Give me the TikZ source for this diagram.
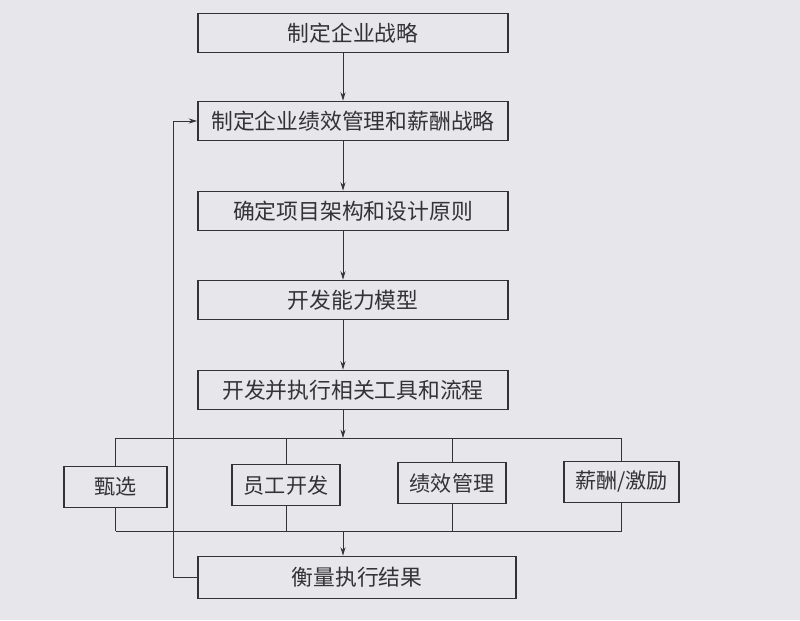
\documentclass[tikz,border=0pt]{standalone}
\usepackage{fontspec}
\newfontfamily\cjk{Noto Sans CJK SC}
\usetikzlibrary{arrows.meta}
\definecolor{paper}{HTML}{E6E6EB}
\definecolor{ink}{HTML}{333335}

\begin{document}
\begin{tikzpicture}[x=0.025cm,y=-0.025cm,
            box/.style={draw=ink,line width=1.2pt,fill=paper,text=ink,inner sep=0pt,
                        minimum width=7.75cm,minimum height=0.975cm,font=\cjk\fontsize{15.5pt}{17pt}\selectfont},
            subbox/.style={box,minimum height=1.025cm,font=\cjk\fontsize{15pt}{17pt}\selectfont},
            wire/.style={draw=ink,line width=0.6pt},
            arr/.style={wire,-{Stealth[length=6pt,width=3.6pt]}}]
            \fill[paper] (0,0) rectangle (800,620);
            \node[box] (b1) at (353,33) {制定企业战略};
            \node[box] (b2) at (353,121) {制定企业绩效管理和薪酬战略};
            \node[box] (b3) at (353,211) {确定项目架构和设计原则};
            \node[box] (b4) at (353,300) {开发能力模型};
            \node[box] (b5) at (353,390) {开发并执行相关工具和流程};
            \node[subbox,minimum width=2.575cm] (s1) at (115.5,487) {甄选};
            \node[subbox,minimum width=2.7cm] (s2) at (286,485) {员工开发};
            \node[subbox,minimum width=2.7cm] (s3) at (452,483) {绩效管理};
            \node[subbox,minimum width=2.875cm] (s4) at (621.5,482) {薪酬/激励};
            \node[box,minimum width=7.95cm,minimum height=1.05cm] (b6) at (357,577.5) {衡量执行结果};
            \coordinate (spine) at (343,0);
            \coordinate (loop) at (173,0);
            \coordinate (bustop) at (0,438);
            \coordinate (busbot) at (0,531);
            \draw[arr] (b1.south -| spine) -- (b2.north -| spine);
            \draw[arr] (b2.south -| spine) -- (b3.north -| spine);
            \draw[arr] (b3.south -| spine) -- (b4.north -| spine);
            \draw[arr] (b4.south -| spine) -- (b5.north -| spine);
            \draw[arr] (b5.south -| spine) -- (bustop -| spine);
            \draw[wire] (bustop -| s1) -- (bustop -| s4);
            \draw[wire] (busbot -| s1) -- (busbot -| s4);
            \foreach \n in {s1,s2,s3,s4} {
                \draw[wire] (bustop -| \n) -- (\n.north);
                \draw[wire] (\n.south) -- (busbot -| \n);
            }
            \draw[arr] (busbot -| spine) -- (b6.north -| spine);
            \draw[arr] (b6.west) -- (b6.west -| loop) -- (b2.west -| loop) -- (b2.west);
        \end{tikzpicture}
\end{document}
